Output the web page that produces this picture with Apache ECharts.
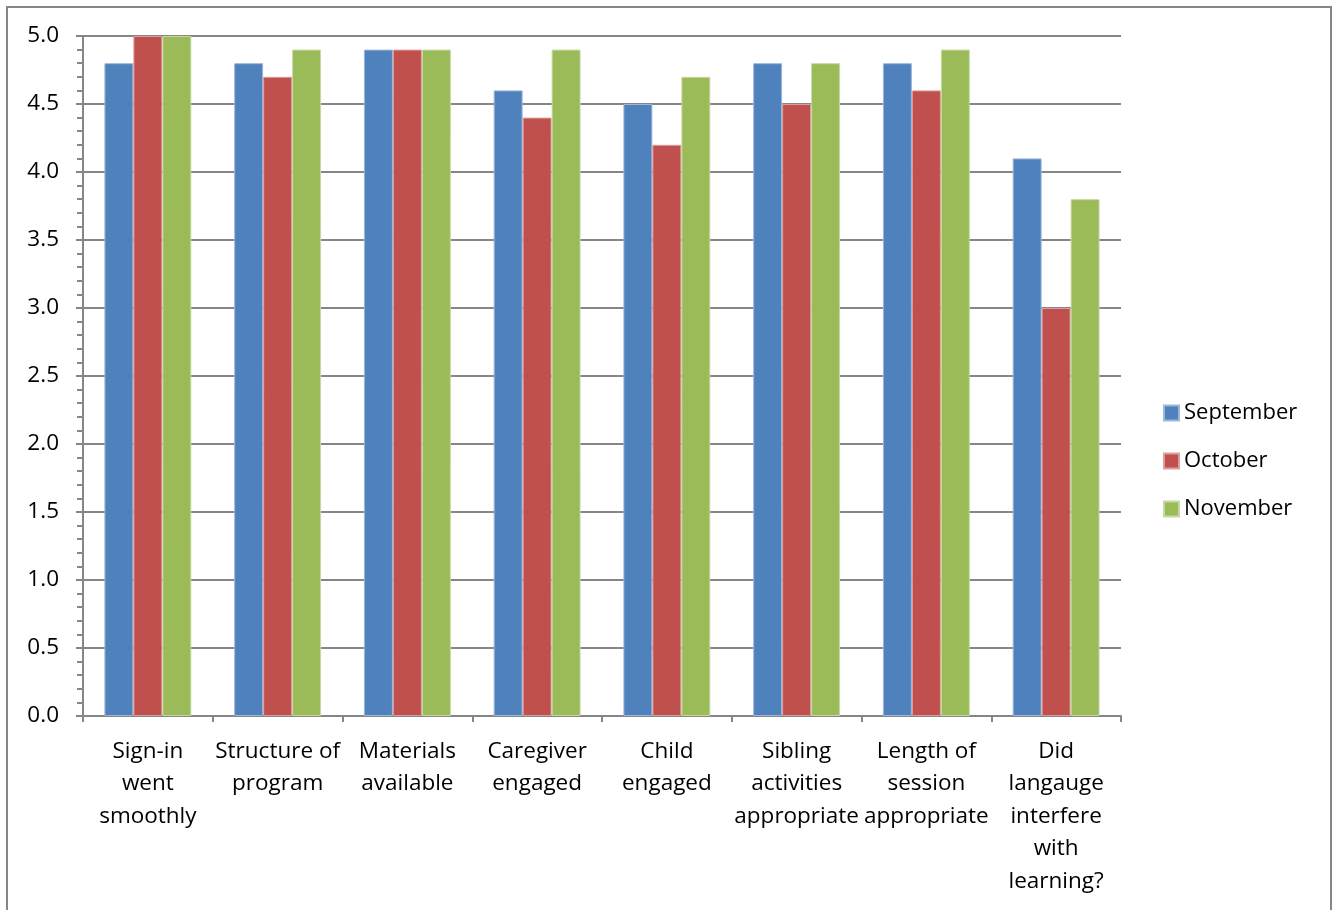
<!DOCTYPE html>
<html>
<head>
<meta charset="utf-8">
<script src="https://cdn.jsdelivr.net/npm/echarts@6/dist/echarts.min.js"></script>
<style>
html,body{margin:0;padding:0;background:#fff;}
#main{width:1336px;height:910px;}
</style>
</head>
<body>
<div id="main"></div>
<script>
var categories = [
  "Sign-in\nwent\nsmoothly",
  "Structure of\nprogram",
  "Materials\navailable",
  "Caregiver\nengaged",
  "Child\nengaged",
  "Sibling\nactivities\nappropriate",
  "Length of\nsession\nappropriate",
  "Did\nlangauge\ninterfere\nwith\nlearning?"
];
var september = [4.8, 4.8, 4.9, 4.6, 4.5, 4.8, 4.8, 4.1];
var october   = [5.0, 4.7, 4.9, 4.4, 4.2, 4.5, 4.6, 3.0];
var november  = [5.0, 4.9, 4.9, 4.9, 4.7, 4.8, 4.9, 3.8];
var seriesNames = ["September", "October", "November"];
var colors = ["#4F81BD", "#C0504D", "#9BBB59"];
var borders = ["#9DB6DA", "#DC9D9B", "#C6D9A5"];

var chart = echarts.init(document.getElementById('main'));
var FONT = 'Open Sans';
var axisGray = '#868686';

function mk(i, data) {
  return {
    name: seriesNames[i],
    type: 'bar',
    data: data,
    barGap: '0%',
    barCategoryGap: '33%',
    itemStyle: { color: colors[i], borderColor: borders[i], borderWidth: 1 }
  };
}

chart.setOption({
  animation: false,
  textStyle: { fontFamily: FONT },
  graphic: [{
    type: 'rect',
    shape: { x: 7, y: 7, width: 1324, height: 920 },
    style: { fill: 'none', stroke: axisGray, lineWidth: 2 },
    silent: true
  }],
  grid: { left: 83, right: 215, top: 36, bottom: 194, containLabel: false },
  legend: {
    orient: 'vertical',
    left: 1163,
    top: 402,
    padding: 0,
    itemWidth: 15,
    itemHeight: 15,
    itemGap: 26,
    icon: 'rect',
    textStyle: { fontFamily: FONT, fontSize: 22, color: '#000', lineHeight: 20 },
    data: seriesNames
  },
  xAxis: {
    type: 'category',
    data: categories,
    axisLine: { lineStyle: { color: axisGray, width: 2 } },
    axisTick: { show: true, alignWithLabel: false, length: 6, lineStyle: { color: axisGray, width: 2 } },
    axisLabel: {
      interval: 0,
      fontFamily: FONT,
      fontSize: 22.5,
      color: '#000',
      lineHeight: 32.5,
      margin: 19,
      align: 'center'
    }
  },
  yAxis: {
    type: 'value',
    min: 0,
    max: 5,
    interval: 0.5,
    axisLine: { show: true, lineStyle: { color: axisGray, width: 2 } },
    axisTick: { show: true, length: 7, lineStyle: { color: axisGray, width: 2 } },
    minorTick: { show: true, splitNumber: 5, length: 6, lineStyle: { color: axisGray, width: 2 } },
    splitLine: { show: true, lineStyle: { color: axisGray, width: 2 } },
    axisLabel: {
      fontFamily: FONT,
      fontSize: 22.5,
      color: '#000',
      margin: 24,
      formatter: function (v) { return v.toFixed(1); }
    }
  },
  series: [mk(0, september), mk(1, october), mk(2, november)]
});
</script>
</body>
</html>
